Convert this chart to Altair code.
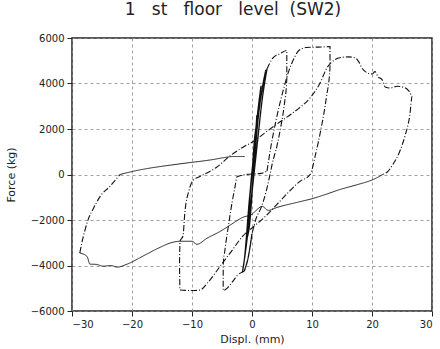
import altair as alt
import pandas as pd

# ---- data (displacement mm, force kg) in time order ----
core_x = [0, 0.4, 0.8, 0.4, -0.3, -0.6, -0.1, 0.4, 1.0, 1.5, 0.9, 0.2, -0.6, -1.1, -0.4, 0.3,
          1.0, 1.8, 2.3, 1.4, 0.6, 0.0, -0.7, -1.3, -1.6, -0.8, 0.0, 0.9, 1.7, 2.5]
core_y = [0, 1500, 2600, 1200, -800, -2200, -1000, 600, 2800, 3900, 2600, 600, -1600, -3400, -2200, 200,
          2400, 3900, 4600, 3300, 1500, 0, -2000, -3800, -4300, -2800, -800, 1400, 3300, 4640]

c6_x = [2.5, 3.5, 4.6, 5.8, 5.8, 5.4, 4.8, 4.2, 3.4, 3.0, 2.4, 1.6, 0.6, 0.0]
c6_y = [4640, 5130, 5300, 5450, 4200, 3100, 2100, 1300, 500, 0, -700, -1400, -2000, -2600]

core2_x = [0.0, -0.6, -1.3]
core2_y = [-2600, -3600, -4250]

c5_x = [-1.3, -2.5, -3.2, -4.8, -4.8, -4.5, -3.9, -3.3, -2.8, -2.5, -1.0, 1.5, 2.5]
c5_y = [-4250, -4450, -4700, -5100, -4000, -3300, -2200, -1200, -500, -100, 0, 50, 150]

c13_x = [2.5, 3.2, 4.1, 5.2, 6.2, 7.0, 7.8, 9.0, 11.0, 13.0, 13.0, 12.4, 11.5, 10.6, 9.7,
         8.0, 6.0, 4.2, 2.0, 0.0, -1.5, -3.5, -5.5, -7.3, -8.7, -10.0, -12.0,
         -12.1, -12.0, -11.5, -11.2, -10.5, -9.8, -8.7,
         -6.0, -3.5, -1.5, 0.2, 2.5, 4.7, 6.5, 8.0, 9.7, 11.3, 12.5,
         13.8, 15.0, 16.0, 17.2, 17.8, 18.3, 19.2, 20.0, 20.5, 21.0, 21.7, 22.2, 23.0, 24.2, 25.5, 26.2, 26.7,
         26.3, 25.5, 24.6, 23.5, 22.5, 21.8]
c13_y = [150, 1300, 2500, 3700, 4600, 5100, 5450, 5580, 5600, 5620, 4700, 3400, 2000, 900, 0,
         -300, -800, -1300, -1900, -2350, -2700, -3400, -4100, -4730, -5080, -5100, -5080,
         -4000, -2935, -2700, -1700, -700, -250, -90,
         300, 850, 1200, 1450, 1900, 2320, 2650, 2950, 3370, 4000, 4690,
         5040, 5150, 5170, 5125, 4950, 4690, 4470, 4420, 4520, 4300, 4160, 3850, 3800, 3880, 3810, 3650, 3450,
         2600, 1700, 1000, 450, 100, 0]

low_x = [21.8, 20.2, 17.5, 14.7, 12.0, 10.2, 7.5, 4.2, 2.7, 1.7, 1.0, 0.0, -1.5, -3.5, -5.3, -7.5, -9.2,
         -10.0, -12.0, -13.5, -15.3, -18.2, -20.8, -22.5, -23.5, -24.8, -26.0, -27.0, -27.5, -28.7]
low_y = [0, -220, -450, -657, -900, -1050, -1226, -1445, -1577, -1400, -1500, -1750, -1880, -2200, -2500, -2800, -3070,
         -2935, -2935, -3000, -3200, -3590, -3940, -4070, -4000, -4030, -3950, -3940, -3600, -3450]

rel_x = [-28.7, -28.3, -27.8, -27.3, -26.5, -25.3, -23.7, -22.0]
rel_y = [-3450, -2930, -2410, -1970, -1530, -960, -525, 0]

up_x = [-22.0, -20.0, -17.5, -15.3, -12.5, -10.3, -8.0, -6.5, -4.5, -3.2, -1.2]
up_y = [0, 130, 260, 350, 450, 525, 600, 657, 750, 790, 790]

x_ticks = [-30, -20, -10, 0, 10, 20, 30]
y_ticks = [-6000, -4000, -2000, 0, 2000, 4000, 6000]

segments = [
    ("core", "core", core_x, core_y),
    ("c6", "dash", c6_x, c6_y),
    ("core2", "core", core2_x, core2_y),
    ("c5", "dash", c5_x, c5_y),
    ("c13", "dash", c13_x, c13_y),
    ("low", "solid", low_x, low_y),
    ("rel", "dash", rel_x, rel_y),
    ("up", "solid", up_x, up_y),
]
rows = []
for seg, style, xs, ys in segments:
    for i, (a, b) in enumerate(zip(xs, ys)):
        rows.append({"seg": seg, "style": style, "i": i, "d": a, "f": b})
df = pd.DataFrame(rows)

title_text = "1\u00a0\u00a0 st\u00a0\u00a0 floor\u00a0\u00a0 level\u00a0 (SW2)"

chart = alt.Chart(df).mark_line(color="#111", interpolate="monotone").encode(
    x=alt.X("d:Q", scale=alt.Scale(domain=[-30, 30], nice=False),
            axis=alt.Axis(values=x_ticks, title="Displ. (mm)", format="d")),
    y=alt.Y("f:Q", scale=alt.Scale(domain=[-6000, 6000], nice=False),
            axis=alt.Axis(values=y_ticks, title="Force (kg)", format="d")),
    detail="seg:N",
    order="i:Q",
    strokeDash=alt.StrokeDash("style:N", legend=None,
                              scale=alt.Scale(domain=["core", "dash", "solid"],
                                              range=[[1, 0], [6, 2, 1, 2], [1, 0]])),
    strokeWidth=alt.StrokeWidth("style:N", legend=None,
                                scale=alt.Scale(domain=["core", "dash", "solid"],
                                                range=[1.3, 0.9, 1.1])),
).properties(
    width=360, height=273,
    title=alt.TitleParams(title_text, fontSize=17, font="DejaVu Sans",
                          fontWeight="normal", color="#222", anchor="middle", dx=-19, offset=14),
    autosize=alt.AutoSizeParams(type="none"),
    padding={"left": 72, "top": 38, "right": 8, "bottom": 38},
).configure_view(
    stroke="#222", strokeWidth=1.5
).configure_axis(
    domain=False, grid=True, gridColor="#888", gridDash=[3, 3], gridWidth=0.8,
    tickColor="#222", tickSize=5, labelFont="DejaVu Sans", labelFontSize=10, labelColor="#222",
    titleFont="DejaVu Sans", titleFontSize=11, titleFontWeight="normal", titleColor="#222",
    labelPadding=3,
).configure_axisY(titlePadding=14).configure_axisX(titlePadding=4)

chart.save("out.html", embed_options={"renderer": "svg", "actions": False})
